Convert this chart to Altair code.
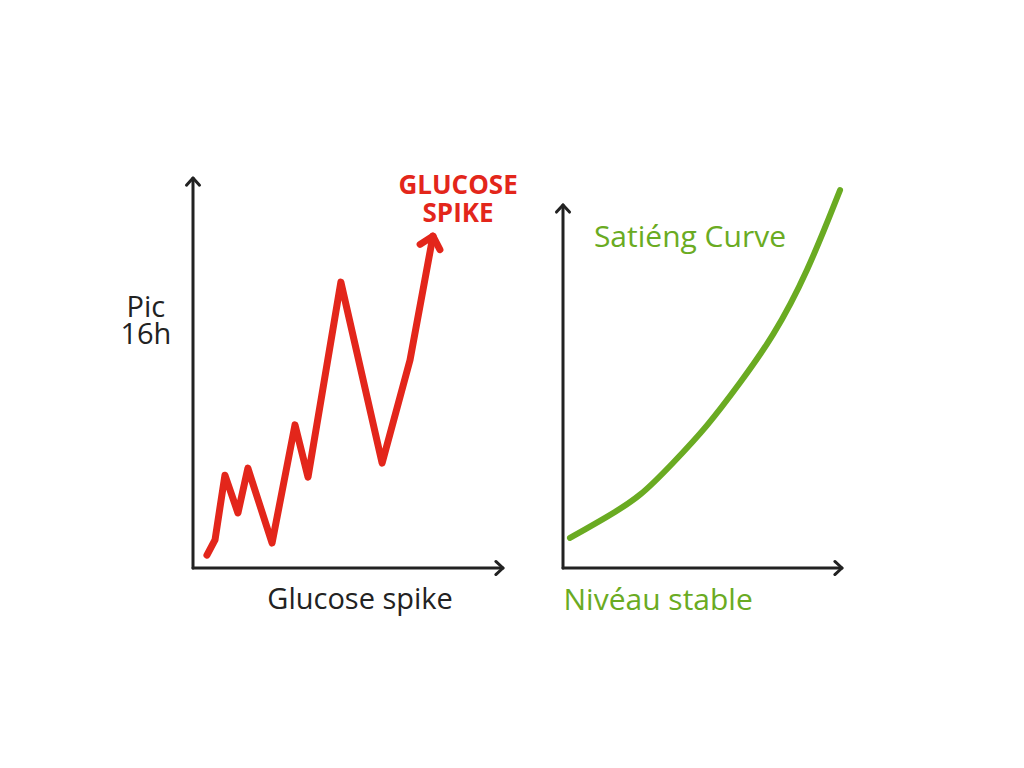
import altair as alt
import pandas as pd

# ---- data (panel units 0..10) ----
RED_X = [0.45, 0.71, 1.03, 1.45, 1.77, 2.55, 3.29, 3.71, 4.77, 6.10, 7.00, 7.74]
RED_Y = [0.33, 0.72, 2.38, 1.41, 2.56, 0.64, 3.67, 2.33, 7.33, 2.69, 5.33, 8.51]

GREEN_X = [0.25, 1.58, 2.76, 3.94, 5.16, 6.34, 7.53, 8.75, 9.93]
GREEN_Y = [0.77, 1.31, 1.82, 2.69, 3.62, 4.74, 5.92, 7.56, 9.69]

LEFT_AXIS_TOP = 10.0
RIGHT_AXIS_TOP = 9.31
AXIS_RIGHT = 10.0

LEFT_TEXTS = ["GLUCOSE\nSPIKE", "Pic\n16h", "Glucose spike"]
LEFT_TEXT_X = [8.55, -1.52, 5.39]
LEFT_TEXT_Y = [9.79, 6.67, -0.82]
LEFT_TEXT_KIND = ["red", "black", "black"]

RIGHT_TEXTS = ["Satiéng Curve", "Nivéau stable"]
RIGHT_TEXT_X = [4.55, 3.41]
RIGHT_TEXT_Y = [8.46, -0.85]

RED = "#e3261b"
GREEN = "#6aab22"
INK = "#222222"
FONT = "Open Sans"

CHEVRON = "M-1,1.1L0,0L1,1.1"

XS = alt.Scale(domain=[0, 10], nice=False, zero=False)
YS = alt.Scale(domain=[0, 10], nice=False, zero=False)


def axes_layer(top):
    df = pd.DataFrame({"x": [0, 0], "y": [0, 0], "x2": [0, AXIS_RIGHT], "y2": [top, 0]})
    rules = alt.Chart(df).mark_rule(color=INK, strokeWidth=3, strokeCap="round").encode(
        x=alt.X("x:Q", scale=XS, axis=None),
        y=alt.Y("y:Q", scale=YS, axis=None),
        x2="x2:Q",
        y2="y2:Q",
    )
    heads = pd.DataFrame({"x": [0, AXIS_RIGHT], "y": [top, 0], "a": [0, 90]})
    arrows = alt.Chart(heads).mark_point(
        shape=CHEVRON, filled=False, color=INK, strokeWidth=3, size=170,
        strokeCap="round", strokeJoin="round", opacity=1,
    ).encode(
        x=alt.X("x:Q", scale=XS, axis=None),
        y=alt.Y("y:Q", scale=YS, axis=None),
        angle=alt.Angle("a:Q", scale=None),
    )
    return rules + arrows


# ---- left panel ----
red_df = pd.DataFrame({"x": RED_X, "y": RED_Y, "i": range(len(RED_X))})
red_line = alt.Chart(red_df).mark_line(
    color=RED, strokeWidth=7, strokeCap="round", strokeJoin="round"
).encode(
    x=alt.X("x:Q", scale=XS, axis=None),
    y=alt.Y("y:Q", scale=YS, axis=None),
    order="i:Q",
)
red_head = alt.Chart(pd.DataFrame({"x": [RED_X[-1]], "y": [RED_Y[-1]]})).mark_point(
    shape=CHEVRON, filled=False, color=RED, strokeWidth=7, size=420,
    angle=15, strokeCap="round", strokeJoin="round", opacity=1,
).encode(
    x=alt.X("x:Q", scale=XS, axis=None),
    y=alt.Y("y:Q", scale=YS, axis=None),
)

lt = pd.DataFrame({"t": LEFT_TEXTS, "x": LEFT_TEXT_X, "y": LEFT_TEXT_Y, "k": LEFT_TEXT_KIND})
red_text = alt.Chart(lt[lt.k == "red"]).mark_text(
    font=FONT, fontSize=26, fontWeight="bold", color=RED, align="center",
    baseline="middle", lineBreak="\n", lineHeight=28,
).encode(
    x=alt.X("x:Q", scale=XS, axis=None),
    y=alt.Y("y:Q", scale=YS, axis=None),
    text="t:N",
)
black_text = alt.Chart(lt[lt.k == "black"]).mark_text(
    font=FONT, fontSize=29, color=INK, align="center", baseline="middle",
    lineBreak="\n", lineHeight=27,
).encode(
    x=alt.X("x:Q", scale=XS, axis=None),
    y=alt.Y("y:Q", scale=YS, axis=None),
    text="t:N",
)

left = alt.layer(axes_layer(LEFT_AXIS_TOP), red_line, red_head, red_text, black_text).properties(
    width=310, height=390
)

# ---- right panel ----
green_df = pd.DataFrame({"x": GREEN_X, "y": GREEN_Y})
green_line = alt.Chart(green_df).mark_line(
    color=GREEN, strokeWidth=6, strokeCap="round", interpolate="basis"
).encode(
    x=alt.X("x:Q", scale=XS, axis=None),
    y=alt.Y("y:Q", scale=YS, axis=None),
)
rt = pd.DataFrame({"t": RIGHT_TEXTS, "x": RIGHT_TEXT_X, "y": RIGHT_TEXT_Y})
green_text = alt.Chart(rt).mark_text(
    font=FONT, fontSize=30, color=GREEN, align="center", baseline="middle"
).encode(
    x=alt.X("x:Q", scale=XS, axis=None),
    y=alt.Y("y:Q", scale=YS, axis=None),
    text="t:N",
)

right = alt.layer(axes_layer(RIGHT_AXIS_TOP), green_line, green_text).properties(
    width=279, height=390
)

chart = alt.hconcat(left, right, spacing=60, bounds="flush").properties(
    autosize=alt.AutoSizeParams(type="none"),
    padding={"left": 185, "top": 170, "right": 823, "bottom": 582},
    background="white",
).configure_view(stroke=None)

chart.save("out.html", embed_options={"renderer": "svg", "actions": False})
